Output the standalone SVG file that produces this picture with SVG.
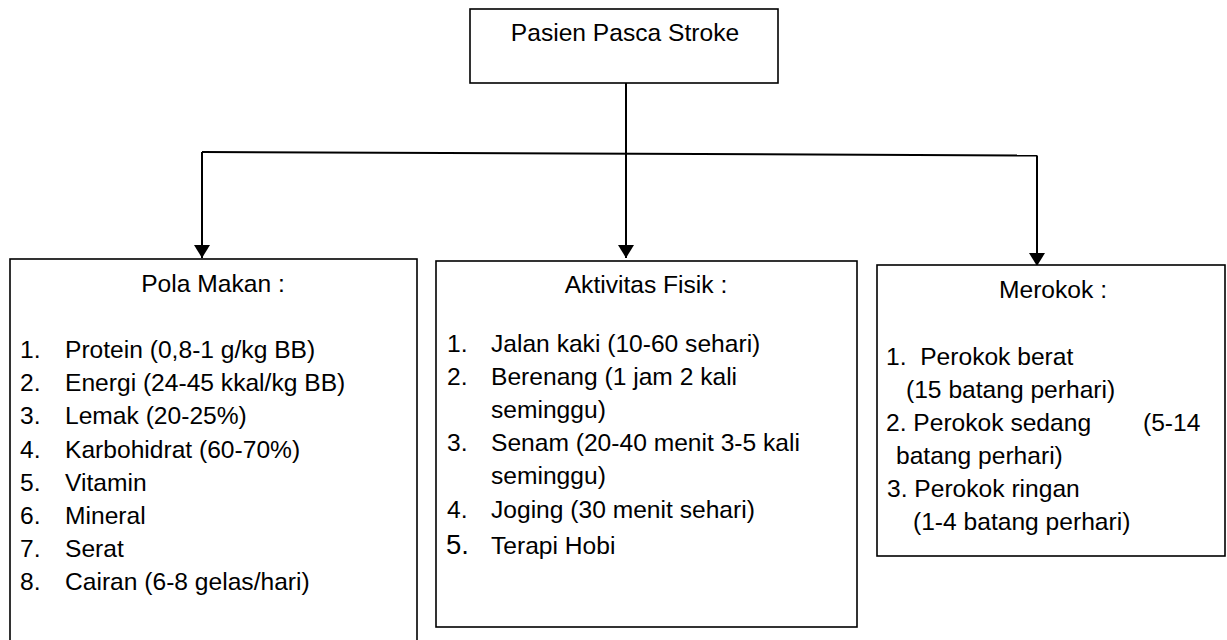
<svg xmlns="http://www.w3.org/2000/svg" width="1227" height="640" viewBox="0 0 1227 640">
  <style>
    .box { fill: #fff; stroke: #000; stroke-width: 1.6; }
    .t { font-family: "Liberation Sans", Arial, sans-serif; font-size: 24.6px; fill: #000; }
    .c { text-anchor: middle; }
    .big { font-size: 27.5px; }
    .conn { fill: none; stroke: #000; stroke-width: 2; }
  </style>
  <defs>
    <marker id="arrow" markerUnits="userSpaceOnUse" markerWidth="14" markerHeight="16" refX="13" refY="8" orient="auto">
      <path d="M0,0 L13,8 L0,16 Z" fill="#000"/>
    </marker>
  </defs>
  <rect width="1227" height="640" fill="#fff"/>

  <g id="connectors">
    <path class="conn" d="M626,83 V258" marker-end="url(#arrow)"/>
    <path class="conn" d="M202,152 L1037,155.5"/>
    <path class="conn" d="M202,152 V258" marker-end="url(#arrow)"/>
    <path class="conn" d="M1037,155.5 V266" marker-end="url(#arrow)"/>
  </g>

  <g id="node-pasien">
    <rect class="box" x="470" y="9" width="308" height="74"/>
    <text class="t c" x="625" y="41">Pasien Pasca Stroke</text>
  </g>

  <g id="node-pola-makan">
    <rect class="box" x="10" y="259" width="407" height="400"/>
    <text class="t c" x="213" y="292">Pola Makan :</text>
    <text class="t" x="20" y="358">1.</text><text class="t" x="65" y="358">Protein (0,8-1 g/kg BB)</text>
    <text class="t" x="20" y="391">2.</text><text class="t" x="65" y="391">Energi (24-45 kkal/kg BB)</text>
    <text class="t" x="20" y="424">3.</text><text class="t" x="65" y="424">Lemak (20-25%)</text>
    <text class="t" x="20" y="458">4.</text><text class="t" x="65" y="458">Karbohidrat (60-70%)</text>
    <text class="t" x="20" y="491">5.</text><text class="t" x="65" y="491">Vitamin</text>
    <text class="t" x="20" y="524">6.</text><text class="t" x="65" y="524">Mineral</text>
    <text class="t" x="20" y="557">7.</text><text class="t" x="65" y="557">Serat</text>
    <text class="t" x="20" y="590">8.</text><text class="t" x="65" y="590">Cairan (6-8 gelas/hari)</text>
  </g>

  <g id="node-aktivitas-fisik">
    <rect class="box" x="436" y="261" width="421" height="366"/>
    <text class="t c" x="646" y="293">Aktivitas Fisik :</text>
    <text class="t" x="447" y="352">1.</text><text class="t" x="491" y="352">Jalan kaki (10-60 sehari)</text>
    <text class="t" x="447" y="385">2.</text><text class="t" x="491" y="385">Berenang (1 jam 2 kali</text>
    <text class="t" x="491" y="418">seminggu)</text>
    <text class="t" x="447" y="451">3.</text><text class="t" x="491" y="451">Senam (20-40 menit 3-5 kali</text>
    <text class="t" x="491" y="484">seminggu)</text>
    <text class="t" x="447" y="518">4.</text><text class="t" x="491" y="518">Joging (30 menit sehari)</text>
    <text class="t big" x="446" y="554">5.</text><text class="t" x="491" y="554">Terapi Hobi</text>
  </g>

  <g id="node-merokok">
    <rect class="box" x="877" y="265" width="348" height="291"/>
    <text class="t c" x="1053" y="298">Merokok :</text>
    <text class="t" x="886" y="365" xml:space="preserve">1.  Perokok berat</text>
    <text class="t" x="906" y="398">(15 batang perhari)</text>
    <text class="t" x="886" y="431">2. Perokok sedang</text>
    <text class="t" x="1143" y="431">(5-14</text>
    <text class="t" x="896" y="464">batang perhari)</text>
    <text class="t" x="887" y="497">3. Perokok ringan</text>
    <text class="t" x="913" y="530">(1-4 batang perhari)</text>
  </g>
</svg>
